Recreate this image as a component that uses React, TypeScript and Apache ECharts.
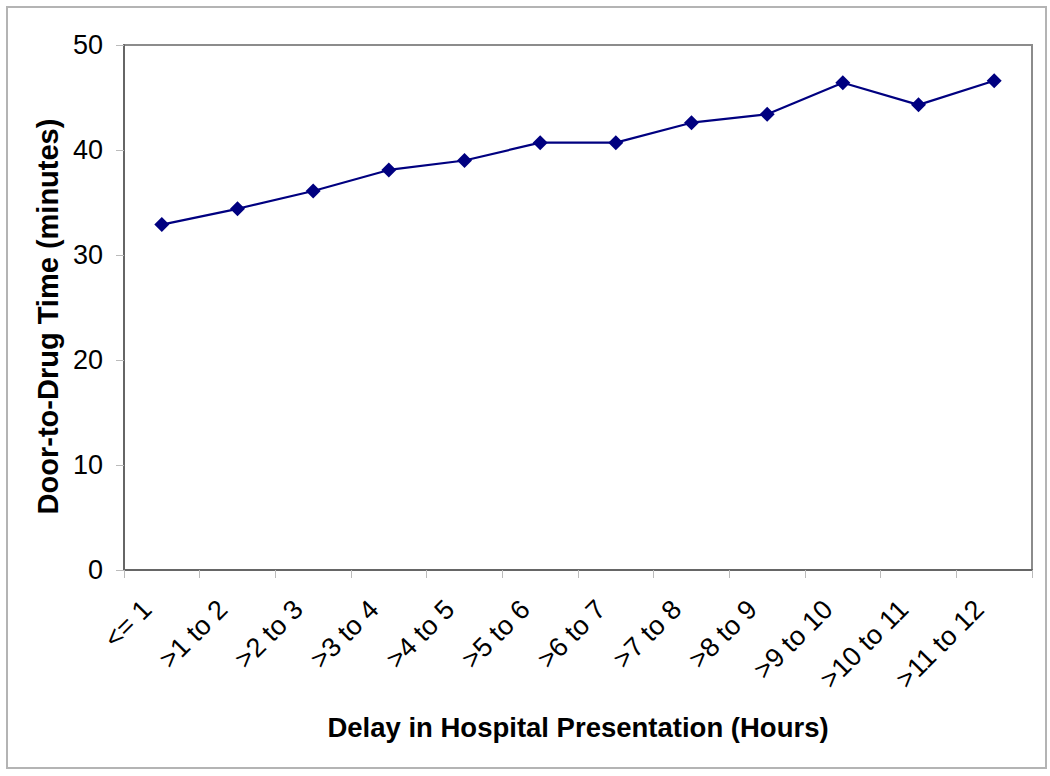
import React, { useEffect, useRef } from "react";
import * as echarts from "echarts";

const categories = [
  "<= 1", ">1 to 2", ">2 to 3", ">3 to 4", ">4 to 5", ">5 to 6",
  ">6 to 7", ">7 to 8", ">8 to 9", ">9 to 10", ">10 to 11", ">11 to 12",
];
const doorToDrug = [32.9, 34.4, 36.1, 38.1, 39.0, 40.7, 40.7, 42.6, 43.4, 46.4, 44.3, 46.6];
const yTicks = { min: 0, max: 50, interval: 10 };

export default function App() {
  const ref = useRef<HTMLDivElement>(null);
  useEffect(() => {
    if (!ref.current) return;
    const chart = echarts.init(ref.current, null, { renderer: "svg" });
    const font = "Arial, 'Liberation Sans', sans-serif";
    chart.setOption({
      animation: false,
      backgroundColor: "#ffffff",
      textStyle: { fontFamily: font },
      graphic: [
        {
          type: "rect",
          shape: { x: 7, y: 7, width: 1039, height: 761 },
          style: { fill: "none", stroke: "#b4b4b4", lineWidth: 2 },
          silent: true,
        },
      ],
      grid: {
        left: 124,
        top: 45,
        right: 18,
        bottom: 206,
        show: true,
        borderColor: "#8c8c8c",
        borderWidth: 2,
        backgroundColor: "transparent",
      },
      xAxis: {
        type: "category",
        data: categories,
        boundaryGap: true,
        name: "Delay in Hospital Presentation (Hours)",
        nameLocation: "middle",
        nameGap: 143,
        nameTextStyle: { fontSize: 27.5, fontWeight: "bold", color: "#000", fontFamily: font },
        axisLine: { show: true, lineStyle: { color: "#666666", width: 2 } },
        axisTick: { show: true, interval: 0, length: 8, lineStyle: { color: "#bbbbbb", width: 1 } },
        axisLabel: {
          interval: 0,
          rotate: 45,
          fontSize: 27,
          color: "#000",
          margin: 20,
          padding: [0, 21, 0, 0],
          fontFamily: font,
        },
        splitLine: { show: false },
      },
      yAxis: {
        type: "value",
        min: yTicks.min,
        max: yTicks.max,
        interval: yTicks.interval,
        name: "Door-to-Drug Time (minutes)",
        nameLocation: "middle",
        nameGap: 61,
        nameTextStyle: {
          fontSize: 29,
          fontWeight: "bold",
          color: "#000",
          fontFamily: font,
          padding: [0, 18, 0, 0],
        },
        axisLine: { show: true, lineStyle: { color: "#666666", width: 2 } },
        axisTick: { show: true, length: 8, lineStyle: { color: "#bbbbbb", width: 1 } },
        axisLabel: { fontSize: 27, color: "#000", margin: 21, fontFamily: font },
        splitLine: { show: false },
      },
      series: [
        {
          type: "line",
          data: doorToDrug,
          symbol: "diamond",
          symbolSize: 15,
          lineStyle: { color: "#000080", width: 2.2 },
          itemStyle: { color: "#000080" },
        },
      ],
    });
    return () => chart.dispose();
  }, []);
  return (
    <div
      ref={ref}
      style={{ position: "absolute", left: 0, top: 0, width: 1050, height: 776 }}
    />
  );
}
